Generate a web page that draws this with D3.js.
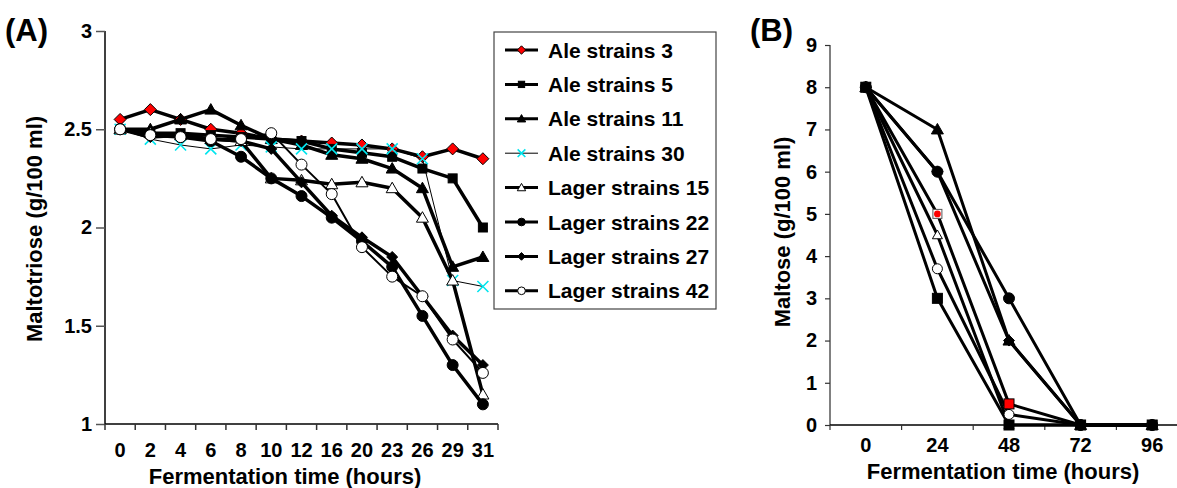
<!DOCTYPE html>
<html>
<head>
<meta charset="utf-8">
<script src="https://cdn.jsdelivr.net/npm/d3@7"></script>
<style>
  html, body { margin: 0; padding: 0; background: #fff; }
  svg { display: block; font-family: "Liberation Sans", Arial, sans-serif; font-weight: bold; }
</style>
</head>
<body>
<svg id="chart" width="1177" height="488"></svg>
<script>
// ---- Panel A: maltotriose during fermentation ----
const timesA = ["0", "2", "4", "6", "8", "10", "12", "16", "20", "23", "26", "29", "31"];
const ticksA = [1, 1.5, 2, 2.5, 3];

const ale3    = [2.55, 2.60, 2.55, 2.50, 2.48, 2.45, 2.44, 2.43, 2.42, 2.40, 2.36, 2.40, 2.35];
const ale5    = [2.50, 2.48, 2.48, 2.47, 2.46, 2.45, 2.44, 2.40, 2.38, 2.36, 2.30, 2.25, 2.00];
const ale11   = [2.50, 2.50, 2.55, 2.60, 2.52, 2.45, 2.42, 2.37, 2.35, 2.30, 2.20, 1.80, 1.85];
const ale30   = [2.50, 2.45, 2.42, 2.40, 2.42, 2.41, 2.40, 2.40, 2.40, 2.40, 2.35, 1.73, 1.70];
const lager15 = [2.50, 2.48, 2.47, 2.45, 2.44, 2.25, 2.24, 2.22, 2.23, 2.20, 2.05, 1.73, 1.15];
const lager22 = [2.50, 2.47, 2.46, 2.44, 2.36, 2.25, 2.16, 2.05, 1.93, 1.80, 1.55, 1.30, 1.10];
const lager27 = [2.50, 2.46, 2.47, 2.45, 2.44, 2.40, 2.23, 2.06, 1.95, 1.85, 1.65, 1.45, 1.30];
const lager42 = [2.50, 2.47, 2.46, 2.45, 2.45, 2.48, 2.32, 2.17, 1.90, 1.75, 1.65, 1.43, 1.26];

const seriesNames = ["Ale strains 3", "Ale strains 5", "Ale strains 11", "Ale strains 30",
                     "Lager strains 15", "Lager strains 22", "Lager strains 27", "Lager strains 42"];

// ---- Panel B: maltose during fermentation ----
const timesB = ["0", "24", "48", "72", "96"];
const ticksB = [0, 1, 2, 3, 4, 5, 6, 7, 8, 9];

const maltRed     = [8, 5.0, 0.5, 0, 0];
const maltTri     = [8, 7.0, 2.0, 0, 0];
const maltCircle  = [8, 6.0, 3.0, 0, 0];
const maltDiamond = [8, 6.0, 2.0, 0, 0];
const maltOpenTri = [8, 4.5, 0.0, 0, 0];
const maltOpenCir = [8, 3.7, 0.25, 0, 0];
const maltSquare  = [8, 3.0, 0.0, 0, 0];

// Marker styles
const styles = {
  redDiamond:  { shape: "diamond",  r: 6,   fill: "#ff0000", stroke: "#000", sw: 1,   line: 3.5 },
  square:      { shape: "square",   r: 4.5, fill: "#000",    stroke: "#000", sw: 1,   line: 3.5 },
  triangle:    { shape: "triangle", r: 6,   fill: "#000",    stroke: "#000", sw: 1,   line: 3.5 },
  cross:       { shape: "cross",    r: 5.5, fill: "none",    stroke: "#00e5ee", sw: 1.6, line: 1 },
  openTri:     { shape: "triangle", r: 6,   fill: "#fff",    stroke: "#000", sw: 1,   line: 3.5 },
  circle:      { shape: "circle",   r: 5.5, fill: "#000",    stroke: "#000", sw: 1,   line: 3.5 },
  diamond:     { shape: "diamond",  r: 5.5, fill: "#000",    stroke: "#000", sw: 1,   line: 3.5 },
  openCircle:  { shape: "circle",   r: 5.5, fill: "#fff",    stroke: "#000", sw: 1,   line: 2 },
  redSquare:   { shape: "redbox",   r: 4.5, fill: "#ff0000", stroke: "#000", sw: 1,   line: 3 }
};

const seriesA = [
  { name: seriesNames[0], values: ale3,    style: styles.redDiamond },
  { name: seriesNames[1], values: ale5,    style: styles.square },
  { name: seriesNames[2], values: ale11,   style: styles.triangle },
  { name: seriesNames[3], values: ale30,   style: styles.cross },
  { name: seriesNames[4], values: lager15, style: styles.openTri },
  { name: seriesNames[5], values: lager22, style: styles.circle },
  { name: seriesNames[6], values: lager27, style: styles.diamond },
  { name: seriesNames[7], values: lager42, style: styles.openCircle }
];

const seriesB = [
  { values: maltTri,     style: Object.assign({}, styles.triangle, { line: 3 }) },
  { values: maltCircle,  style: Object.assign({}, styles.circle, { line: 3 }) },
  { values: maltDiamond, style: Object.assign({}, styles.diamond, { line: 3 }) },
  { values: maltOpenTri, style: Object.assign({}, styles.openTri, { line: 3, r: 5 }) },
  { values: maltOpenCir, style: Object.assign({}, styles.openCircle, { line: 3, r: 5 }) },
  { values: maltRed,     style: styles.redSquare },
  { values: maltSquare,  style: Object.assign({}, styles.square, { line: 3, r: 5 }) }
];

const svg = d3.select("#chart");
svg.append("rect").attr("width", 1177).attr("height", 488).attr("fill", "#fff");

function drawMarker(g, x, y, st, scale) {
  const r = st.r * (scale || 1);
  if (st.shape === "circle") {
    g.append("circle").attr("cx", x).attr("cy", y).attr("r", r)
      .attr("fill", st.fill).attr("stroke", st.stroke).attr("stroke-width", st.sw);
  } else if (st.shape === "square") {
    g.append("rect").attr("x", x - r).attr("y", y - r).attr("width", 2 * r).attr("height", 2 * r)
      .attr("fill", st.fill).attr("stroke", st.stroke).attr("stroke-width", st.sw);
  } else if (st.shape === "redbox") {
    // open grey-edged square with a red dot inside
    g.append("rect").attr("x", x - r).attr("y", y - r).attr("width", 2 * r).attr("height", 2 * r)
      .attr("fill", "#fff").attr("stroke", "#555").attr("stroke-width", 1);
    g.append("circle").attr("cx", x).attr("cy", y).attr("r", r * 0.75).attr("fill", st.fill);
  } else if (st.shape === "diamond") {
    g.append("path").attr("d", `M${x},${y - r}L${x + r},${y}L${x},${y + r}L${x - r},${y}Z`)
      .attr("fill", st.fill).attr("stroke", st.stroke).attr("stroke-width", st.sw);
  } else if (st.shape === "triangle") {
    g.append("path").attr("d", `M${x},${y - r}L${x + r},${y + r * 0.75}L${x - r},${y + r * 0.75}Z`)
      .attr("fill", st.fill).attr("stroke", st.stroke).attr("stroke-width", st.sw);
  } else if (st.shape === "cross") {
    g.append("path").attr("d", `M${x - r},${y - r}L${x + r},${y + r}M${x - r},${y + r}L${x + r},${y - r}`)
      .attr("fill", "none").attr("stroke", st.stroke).attr("stroke-width", st.sw);
  }
}

// ================= Panel A =================
const xA = d3.scaleBand().domain(timesA).range([105, 498]);
const yA = d3.scaleLinear().domain([1, 3]).range([424, 31]);
const cxA = d => xA(d) + xA.bandwidth() / 2;

const axA = svg.append("g");
// y axis
axA.append("g").attr("transform", "translate(105,0)")
  .call(d3.axisLeft(yA).tickValues(ticksA).tickFormat(d3.format("")).tickSize(9).tickPadding(4))
  .call(g => {
    g.select(".domain").attr("stroke", "#000").attr("stroke-width", 1.5).attr("d", "M0,31V424");
    g.selectAll(".tick line").attr("stroke", "#555").attr("stroke-width", 1.5);
    g.selectAll("text").attr("font-size", 20).attr("font-weight", "bold")
      .attr("font-family", "Liberation Sans, Arial, sans-serif").attr("fill", "#000");
  });
// x axis: ticks sit between categories
axA.append("g").attr("transform", "translate(0,424)")
  .call(d3.axisBottom(xA).tickSize(0).tickPadding(19))
  .call(g => {
    g.select(".domain").attr("stroke", "#000").attr("stroke-width", 1.5).attr("d", "M105,0H498");
    g.selectAll("text").attr("font-size", 20).attr("font-weight", "bold")
      .attr("font-family", "Liberation Sans, Arial, sans-serif").attr("fill", "#000");
  });
axA.selectAll(null).data(timesA.concat(["end"])).enter().append("line")
  .attr("x1", (d, i) => i < timesA.length ? xA(d) : 498)
  .attr("x2", (d, i) => i < timesA.length ? xA(d) : 498)
  .attr("y1", 424).attr("y2", 430).attr("stroke", "#333").attr("stroke-width", 1.5);

const lineA = d3.line().x((d, i) => cxA(timesA[i])).y(d => yA(d));
const plotA = svg.append("g");
seriesA.forEach(s => {
  const g = plotA.append("g");
  g.append("path").attr("d", lineA(s.values)).attr("fill", "none")
    .attr("stroke", "#000").attr("stroke-width", s.style.line).attr("stroke-linejoin", "round");
  s.values.forEach((v, i) => drawMarker(g, cxA(timesA[i]), yA(v), s.style));
});

// Legend
const leg = svg.append("g");
leg.append("rect").attr("x", 494).attr("y", 32).attr("width", 222).attr("height", 277)
  .attr("fill", "#fff").attr("stroke", "#444").attr("stroke-width", 1.2);
seriesA.forEach((s, i) => {
  const y = 50 + i * 34.4;
  leg.append("line").attr("x1", 505).attr("x2", 538).attr("y1", y).attr("y2", y)
    .attr("stroke", "#000").attr("stroke-width", s.style.line === 1 ? 1 : 3);
  drawMarker(leg, 521.5, y, s.style, 0.7);
  leg.append("text").attr("x", 548).attr("y", y).attr("dy", "0.36em")
    .attr("font-size", 21).attr("fill", "#000").text(s.name);
});

// Titles A
svg.append("text").attr("x", 5).attr("y", 41).attr("font-size", 31).text("(A)");
svg.append("text").attr("transform", "translate(42,229) rotate(-90)")
  .attr("text-anchor", "middle").attr("font-size", 22).text("Maltotriose (g/100 ml)");
svg.append("text").attr("x", 285).attr("y", 484).attr("text-anchor", "middle")
  .attr("font-size", 22).text("Fermentation time (hours)");

// ================= Panel B =================
const xB = d3.scaleBand().domain(timesB).range([830, 1188]);
const yB = d3.scaleLinear().domain([0, 9]).range([425, 45]);
const cxB = d => xB(d) + xB.bandwidth() / 2;

svg.append("g").attr("transform", "translate(830,0)")
  .call(d3.axisLeft(yB).tickValues(ticksB).tickSize(5).tickPadding(8))
  .call(g => {
    g.select(".domain").attr("stroke", "#808080").attr("stroke-width", 2).attr("d", "M0,45V425");
    g.selectAll(".tick line").attr("stroke", "#333").attr("stroke-width", 1.2);
    g.selectAll("text").attr("font-size", 20).attr("font-weight", "bold")
      .attr("font-family", "Liberation Sans, Arial, sans-serif").attr("fill", "#000");
  });
svg.append("g").attr("transform", "translate(0,425)")
  .call(d3.axisBottom(xB).tickSize(0).tickPadding(13))
  .call(g => {
    g.select(".domain").attr("stroke", "#000").attr("stroke-width", 1.5).attr("d", "M830,0H1188");
    g.selectAll("text").attr("font-size", 20).attr("font-weight", "bold")
      .attr("font-family", "Liberation Sans, Arial, sans-serif").attr("fill", "#000");
  });
svg.append("g").selectAll("line").data(timesB).enter().append("line")
  .attr("x1", d => xB(d)).attr("x2", d => xB(d))
  .attr("y1", 425).attr("y2", 430).attr("stroke", "#333").attr("stroke-width", 1.2);

const lineB = d3.line().x((d, i) => cxB(timesB[i])).y(d => yB(d));
const plotB = svg.append("g");
seriesB.forEach(s => {
  plotB.append("path").attr("d", lineB(s.values)).attr("fill", "none")
    .attr("stroke", "#000").attr("stroke-width", s.style.line).attr("stroke-linejoin", "round");
});
seriesB.forEach(s => {
  const g = plotB.append("g");
  s.values.forEach((v, i) => {
    // the red series shows a filled red square at 48 h
    const st = (s.style.shape === "redbox" && i === 2)
      ? { shape: "square", r: 5, fill: "#ff0000", stroke: "#000", sw: 1 } : s.style;
    drawMarker(g, cxB(timesB[i]), yB(v), st);
  });
});

svg.append("text").attr("x", 750).attr("y", 41).attr("font-size", 31).text("(B)");
svg.append("text").attr("transform", "translate(790,232) rotate(-90)")
  .attr("text-anchor", "middle").attr("font-size", 22).text("Maltose (g/100 ml)");
svg.append("text").attr("x", 1003).attr("y", 479).attr("text-anchor", "middle")
  .attr("font-size", 22).text("Fermentation time (hours)");
</script>
</body>
</html>
